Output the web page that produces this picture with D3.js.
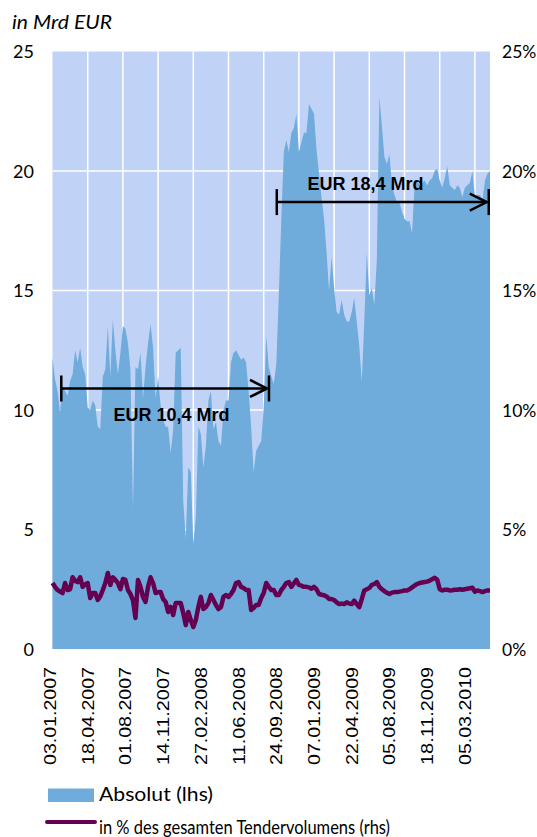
<!DOCTYPE html>
<html>
<head>
<meta charset="utf-8">
<script src="https://cdn.jsdelivr.net/npm/d3@7.9.0/dist/d3.min.js"></script>
<style>
  body { margin: 0; background: #fff; }
  svg { display: block; }
</style>
</head>
<body>
<div id="chart"></div>
<script>
// weekly tender values, Jan 2007 - May 2010
const absolut = [
  12.2, 11.3, 10.8, 9.9, 11.0, 10.8, 10.6, 11.2, 11.5, 12.5,
  12.0, 12.6, 11.8, 11.5, 10.1, 10.0, 10.4, 10.2, 9.3, 9.2,
  11.4, 11.7, 13.5, 11.4, 13.8, 12.5, 11.5, 12.4, 13.5, 13.4,
  12.8, 11.7, 5.9, 11.8, 11.7, 12.4, 10.5, 11.8, 12.8, 13.6,
  12.6, 10.5, 11.4, 10.2, 9.6, 9.3, 9.3, 8.2, 9.2, 12.4,
  12.5, 12.6, 6.2, 4.6, 7.6, 7.4, 4.4, 5.5, 9.3, 9.0,
  7.6, 8.5, 10.4, 10.8, 9.2, 9.5, 8.7, 8.5, 10.0, 10.4,
  10.4, 12.0, 12.4, 12.5, 12.3, 12.1, 12.2, 12.0, 10.8, 9.3,
  7.4, 8.3, 8.5, 8.7, 10.1, 13.1, 11.8, 11.4, 11.1, 11.9,
  14.8, 18.0, 20.8, 21.3, 20.8, 21.6, 21.8, 22.4, 20.8, 21.2,
  21.6, 21.6, 22.8, 22.6, 22.4, 20.9, 19.9, 18.9, 18.0, 16.6,
  15.0, 16.4, 15.1, 14.1, 14.0, 14.6, 14.0, 13.7, 13.7, 14.1,
  14.7, 13.7, 12.7, 11.2, 13.7, 16.6, 14.8, 15.1, 14.4, 16.3,
  23.1, 21.9, 20.6, 20.3, 20.7, 19.4, 19.0, 18.7, 18.7, 18.3,
  18.0, 17.9, 17.9, 17.4, 19.4, 19.6, 19.4, 19.5, 19.6, 19.4,
  19.6, 19.7, 20.0, 20.1, 19.6, 19.3, 19.7, 20.2, 19.4, 19.3,
  19.2, 19.4, 19.3, 18.9, 19.3, 19.4, 19.5, 20.0, 18.9, 19.0,
  19.0, 18.8, 19.6, 19.9, 20.0
];

// in % des gesamten Tendervolumens
const anteil = [
  2.76, 2.6, 2.47, 2.4, 2.34, 2.76, 2.47, 2.5, 3.0, 2.85,
  2.8, 3.0, 2.6, 2.7, 2.76, 2.13, 2.34, 2.34, 2.05, 2.2,
  2.47, 2.76, 3.18, 2.68, 3.0, 2.89, 2.76, 2.5, 2.93, 2.89,
  2.47, 2.3, 2.05, 1.3, 2.89, 2.6, 2.18, 1.97, 2.6, 3.0,
  2.76, 2.34, 2.38, 2.38, 2.09, 1.97, 1.55, 1.76, 1.42, 1.92,
  1.92, 1.92, 1.5, 1.0, 1.55, 1.21, 0.92, 1.21, 1.76, 2.18,
  1.67, 1.76, 1.92, 2.26, 2.05, 1.84, 1.67, 1.76, 2.18, 2.26,
  2.18, 2.3, 2.47, 2.76, 2.8, 2.6, 2.55, 2.47, 2.47, 1.63,
  1.72, 1.84, 1.84, 2.13, 2.34, 2.76, 2.6, 2.47, 2.47, 2.26,
  2.26, 2.47, 2.6, 2.76, 2.8, 2.6, 2.75, 2.89, 2.68, 2.65,
  2.6, 2.6, 2.58, 2.52, 2.6, 2.5, 2.3, 2.27, 2.25, 2.2,
  2.09, 2.09, 2.05, 1.95, 1.88, 1.9, 1.88, 1.95, 1.9, 1.88,
  2.02, 1.88, 1.75, 2.09, 2.45, 2.5, 2.55, 2.68, 2.72, 2.8,
  2.6, 2.5, 2.42, 2.35, 2.3, 2.36, 2.38, 2.38, 2.4, 2.42,
  2.45, 2.45, 2.5, 2.58, 2.65, 2.72, 2.76, 2.78, 2.8, 2.82,
  2.86, 2.92, 2.98, 2.9, 2.5, 2.45, 2.48, 2.48, 2.45, 2.46,
  2.48, 2.48, 2.5, 2.48, 2.5, 2.52, 2.54, 2.56, 2.4, 2.45,
  2.42, 2.38, 2.42, 2.45, 2.45
];

const tickIndex = [0, 15, 30, 45, 60, 75, 90, 105, 120, 135, 150, 165];
const tickLabels = ['03.01.2007', '18.04.2007', '01.08.2007', '14.11.2007', '27.02.2008', '11.06.2008',
  '24.09.2008', '07.01.2009', '22.04.2009', '05.08.2009', '18.11.2009', '05.03.2010'];
const gridIndex = [14, 28, 42, 56, 70, 84, 98, 112, 126, 140, 154, 168];
const leftTicks = [0, 5, 10, 15, 20, 25];
const rightTicks = [0, 5, 10, 15, 20, 25];

// average periods drawn as arrows
const periodLabels = ['EUR 10,4 Mrd', 'EUR 18,4 Mrd'];
const periodStart = [3.5, 89.2];
const periodEnd = [86.1, 173.5];
const periodLevel = [10.9, 18.7];
const periodLabelAt = [47.3, 124.5];

const W = 537, H = 837;
const plotL = 52.5, plotR = 490, plotT = 51.5, plotB = 649;

const svg = d3.select('#chart').append('svg')
  .attr('width', W)
  .attr('height', H);

const x = d3.scaleLinear().domain([0, absolut.length - 1]).range([plotL, plotR]);
const y = d3.scaleLinear().domain([0, 25]).range([plotB, plotT]);

// plot background + grid
svg.append('rect')
  .attr('x', plotL).attr('y', plotT)
  .attr('width', plotR - plotL).attr('height', plotB - plotT)
  .attr('fill', '#c0d3f7');

svg.append('g')
  .selectAll('line')
  .data(gridIndex)
  .enter().append('line')
  .attr('x1', d => x(d)).attr('x2', d => x(d))
  .attr('y1', plotT).attr('y2', plotB)
  .attr('stroke', '#fff').attr('stroke-width', 1.5);

svg.append('g')
  .selectAll('line')
  .data([5, 10, 15, 20])
  .enter().append('line')
  .attr('x1', plotL).attr('x2', plotR)
  .attr('y1', d => y(d)).attr('y2', d => y(d))
  .attr('stroke', '#fff').attr('stroke-width', 1.5);

// area (lhs)
const area = d3.area()
  .x((d, i) => x(i))
  .y0(y(0))
  .y1(d => y(d));

svg.append('path')
  .datum(absolut)
  .attr('d', area)
  .attr('fill', '#70acdb');

// line (rhs, same 0-25 range in %)
const line = d3.line()
  .x((d, i) => x(i))
  .y(d => y(d));

svg.append('path')
  .datum(anteil)
  .attr('d', line)
  .attr('fill', 'none')
  .attr('stroke', '#650050')
  .attr('stroke-width', 4.5)
  .attr('stroke-linejoin', 'round');

// arrows
periodLabels.forEach((label, k) => {
  const x0 = x(periodStart[k]), x1 = x(periodEnd[k]), ly = y(periodLevel[k]);
  const g = svg.append('g')
    .attr('stroke', '#000')
    .attr('stroke-width', 2.5)
    .attr('fill', 'none');
  g.append('line').attr('x1', x0).attr('x2', x1 - 2).attr('y1', ly).attr('y2', ly);
  g.append('line').attr('x1', x0).attr('x2', x0).attr('y1', ly - 13).attr('y2', ly + 13);
  g.append('line').attr('x1', x1).attr('x2', x1).attr('y1', ly - 13).attr('y2', ly + 13);
  g.append('polyline')
    .attr('points', `${x1 - 19},${ly - 8.5} ${x1 - 2},${ly} ${x1 - 19},${ly + 8.5}`);

  svg.append('text')
    .attr('x', x(periodLabelAt[k]))
    .attr('y', k === 0 ? ly + 32.5 : ly - 12)
    .attr('text-anchor', 'middle')
    .attr('font-family', '"Liberation Sans", Arial, sans-serif')
    .attr('font-weight', 'bold')
    .attr('font-size', 18)
    .text(label);
});

// left axis
const yAxisL = svg.append('g')
  .attr('transform', `translate(${plotL},0)`)
  .call(d3.axisLeft(y).tickValues(leftTicks).tickSize(0).tickPadding(18.5));
yAxisL.select('.domain').remove();
yAxisL.selectAll('text')
  .attr('font-family', 'Lato, "Open Sans", sans-serif')
  .attr('font-size', 18)
  .attr('fill', '#000')
  .attr('dy', '0.36em');

// right axis
const yAxisR = svg.append('g')
  .attr('transform', `translate(${plotR},0)`)
  .call(d3.axisRight(y).tickValues(rightTicks).tickSize(0).tickPadding(12).tickFormat(d => d + '%'));
yAxisR.select('.domain').remove();
yAxisR.selectAll('text')
  .attr('font-family', 'Lato, "Open Sans", sans-serif')
  .attr('font-size', 17.5)
  .attr('fill', '#000')
  .attr('dy', '0.36em');

// x axis, rotated labels
const xAxis = svg.append('g')
  .attr('transform', `translate(0,${plotB})`)
  .call(d3.axisBottom(x).tickValues(tickIndex).tickSize(0)
    .tickFormat(d => tickLabels[tickIndex.indexOf(d)]));
xAxis.select('.domain').remove();
xAxis.selectAll('text')
  .attr('transform', 'rotate(-90)')
  .attr('text-anchor', 'end')
  .attr('x', -18)
  .attr('y', 3)
  .attr('dy', 0)
  .attr('font-family', '"Liberation Sans", Arial, sans-serif')
  .attr('font-size', 16)
  .attr('fill', '#000')
  .attr('textLength', 98)
  .attr('lengthAdjust', 'spacingAndGlyphs');

// unit title
svg.append('text')
  .attr('x', 12).attr('y', 29)
  .attr('font-family', 'Lato, "Open Sans", sans-serif')
  .attr('font-style', 'italic')
  .attr('font-size', 19)
  .attr('textLength', 100)
  .attr('lengthAdjust', 'spacingAndGlyphs')
  .text('in Mrd EUR');

// legend
const legend = svg.append('g')
  .attr('font-family', 'Lato, "Open Sans", sans-serif')
  .attr('font-size', 19);

legend.append('rect')
  .attr('x', 48).attr('y', 788.5)
  .attr('width', 46).attr('height', 13.5)
  .attr('fill', '#70acdb');
legend.append('text')
  .attr('x', 99).attr('y', 801)
  .attr('textLength', 114)
  .attr('lengthAdjust', 'spacingAndGlyphs')
  .text('Absolut (lhs)');

legend.append('line')
  .attr('x1', 47).attr('x2', 95)
  .attr('y1', 822).attr('y2', 822)
  .attr('stroke', '#650050')
  .attr('stroke-width', 4)
  .attr('stroke-linecap', 'round');
legend.append('text')
  .attr('x', 99).attr('y', 834)
  .attr('font-size', 19.5)
  .attr('textLength', 291)
  .attr('lengthAdjust', 'spacingAndGlyphs')
  .text('in % des gesamten Tendervolumens (rhs)');
</script>
</body>
</html>
